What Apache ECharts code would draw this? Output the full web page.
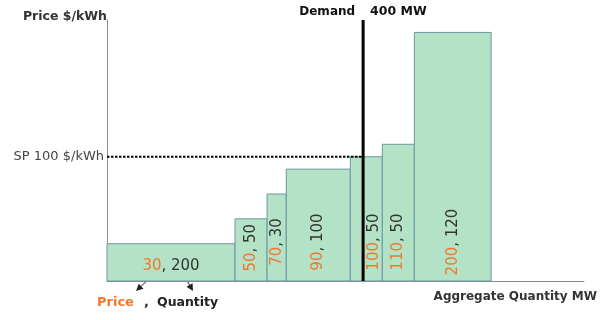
<!DOCTYPE html>
<html>
<head>
<meta charset="utf-8">
<title>Merit order supply curve</title>
<script src="https://cdn.jsdelivr.net/npm/echarts@6/dist/echarts.min.js"></script>
<style>
  html, body { margin: 0; padding: 0; background: #fff; }
  #chart { width: 600px; height: 320px; }
</style>
</head>
<body>
<div id="chart"></div>
<script>
// Generator bids in merit order: price ($/kWh) and offered quantity (MW)
const prices = [30, 50, 70, 90, 100, 110, 200];
const quantities = [200, 50, 30, 100, 50, 50, 120];
// System demand (MW)
const demandMW = 400;
// Axis ranges
const quantityMax = 745;
const priceMax = 210;

const FONT = '"DejaVu Sans", Verdana, sans-serif';
const ORANGE = '#f0782d';
const DARK = '#333333';

// Cumulative start of each bid along the aggregate quantity axis
const starts = [];
let total = 0;
quantities.forEach(q => { starts.push(total); total += q; });
const bids = prices.map((p, i) => [starts[i], starts[i] + quantities[i], p, quantities[i]]);

// The marginal bid that covers demand sets the system price
const marginal = bids.findIndex(b => demandMW > b[0] && demandMW <= b[1]);
const systemPrice = prices[marginal];

const measureCtx = document.createElement('canvas').getContext('2d');
function textWidth(str, size) {
  measureCtx.font = size + 'px ' + FONT;
  return measureCtx.measureText(str).width;
}

function renderBid(params, api) {
  const x0 = api.value(0), x1 = api.value(1), price = api.value(2), qty = api.value(3);
  const bl = api.coord([x0, 0]);
  const tr = api.coord([x1, price]);
  const demandX = api.coord([demandMW, 0])[0];
  const w = tr[0] - bl[0], h = bl[1] - tr[1];

  const size = 15;
  const plain = price + ', ' + qty;
  const len = textWidth(plain, size);
  let cx = bl[0] + w / 2;
  // keep the label clear of the demand line
  if (demandX > bl[0] && demandX < tr[0]) cx = (demandX + tr[0]) / 2 + 1;
  const vertical = h > len + 10;

  const labelStyle = {
    text: '{p|' + price + '}, {q|' + qty + '}',
    fill: DARK,
    fontSize: size,
    fontFamily: FONT,
    align: 'center',
    verticalAlign: 'middle',
    rich: {
      p: { fill: ORANGE, fontSize: size, fontFamily: FONT },
      q: { fill: DARK, fontSize: size, fontFamily: FONT }
    }
  };

  const label = vertical
    ? { type: 'text', x: cx, y: Math.max(bl[1] - 39, tr[1] + len / 2 + 5), rotation: Math.PI / 2, style: labelStyle }
    : { type: 'text', x: cx, y: bl[1] - 15, style: labelStyle };

  return {
    type: 'group',
    children: [
      {
        type: 'rect',
        shape: { x: bl[0], y: tr[1], width: w, height: h },
        style: { fill: '#b4e2c6', stroke: '#6a97a0', lineWidth: 1 }
      },
      label
    ]
  };
}

// Small arrow used by the "Price , Quantity" key
function arrow(x1, y1, x2, y2) {
  const dx = x2 - x1, dy = y2 - y1, l = Math.hypot(dx, dy);
  const ux = dx / l, uy = dy / l, nx = -uy, ny = ux;
  const hl = 7, hw = 3.5;
  const bx = x2 - ux * hl, by = y2 - uy * hl;
  return [
    { type: 'line', shape: { x1, y1, x2: bx, y2: by }, style: { stroke: '#222', lineWidth: 1 } },
    { type: 'polygon', shape: { points: [[x2, y2], [bx + nx * hw, by + ny * hw], [bx - nx * hw, by - ny * hw]] }, style: { fill: '#222' } }
  ];
}

const chart = echarts.init(document.getElementById('chart'), null, { renderer: 'canvas' });

chart.setOption({
  animation: false,
  backgroundColor: '#ffffff',
  grid: { left: 107, top: 20, width: 478, bottom: 39 },
  xAxis: {
    type: 'value',
    min: 0,
    max: quantityMax,
    name: 'Aggregate Quantity MW',
    nameLocation: 'end',
    nameGap: 13,
    nameTextStyle: {
      color: DARK, fontWeight: 'bold', fontSize: 12, fontFamily: FONT,
      align: 'right', verticalAlign: 'top', padding: [10, 0, 0, 0]
    },
    axisLine: { show: true, lineStyle: { color: '#8c8c8c', width: 1 } },
    axisTick: { show: false },
    axisLabel: { show: false },
    splitLine: { show: false }
  },
  yAxis: {
    type: 'value',
    min: 0,
    max: priceMax,
    name: 'Price $/kWh',
    nameLocation: 'end',
    nameGap: 3,
    nameTextStyle: {
      color: DARK, fontWeight: 'bold', fontSize: 12.5, fontFamily: FONT,
      align: 'right', verticalAlign: 'middle'
    },
    axisLine: { show: true, lineStyle: { color: '#8c8c8c', width: 1 } },
    axisTick: { show: false },
    axisLabel: {
      show: true,
      customValues: [systemPrice],
      formatter: v => 'SP ' + v + ' $/kWh',
      margin: 3,
      color: '#444',
      fontSize: 13,
      fontFamily: FONT
    },
    splitLine: { show: false }
  },
  series: [
    {
      type: 'custom',
      name: 'Bids',
      renderItem: renderBid,
      data: bids,
      clip: false,
      z: 2
    },
    {
      type: 'line',
      name: 'System price',
      data: [[0, systemPrice], [demandMW, systemPrice]],
      symbol: 'none',
      lineStyle: { color: '#000', width: 2, type: [2.5, 1.5] },
      z: 3
    },
    {
      type: 'line',
      name: 'Demand',
      data: [[demandMW, 0], [demandMW, priceMax]],
      symbol: 'none',
      lineStyle: { color: '#000', width: 3 },
      z: 4
    }
  ]
});

// Annotations placed from data coordinates once the axes exist
const demandTop = chart.convertToPixel({ gridIndex: 0 }, [demandMW, priceMax]);
const boldText = (x, y, text, fill, size, align) => ({
  type: 'text', x, y,
  style: { text, fill, fontWeight: 'bold', fontSize: size, fontFamily: FONT, align: align || 'left', verticalAlign: 'middle' }
});

chart.setOption({
  graphic: [
    boldText(demandTop[0] - 8, demandTop[1] - 8, 'Demand', '#111', 12, 'right'),
    boldText(demandTop[0] + 7, demandTop[1] - 8, demandMW + ' MW', '#111', 12.5, 'left'),
    ...arrow(151, 277, 136, 291),
    ...arrow(185, 277, 193, 291),
    boldText(97, 303, 'Price', ORANGE, 13),
    boldText(144, 303, ',', DARK, 13),
    boldText(157, 303, 'Quantity', '#222', 12.5)
  ]
});
</script>
</body>
</html>
